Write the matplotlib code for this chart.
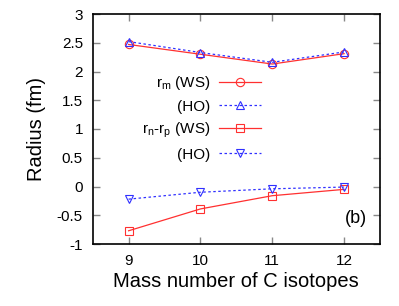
import matplotlib
matplotlib.use("Agg")
import matplotlib.pyplot as plt

plt.rcParams['font.family'] = ['Liberation Sans', 'DejaVu Sans']

mass = [9, 10, 11, 12]
rm_ws = [2.47, 2.30, 2.13, 2.31]
rm_ho = [2.52, 2.33, 2.16, 2.34]
dr_ws = [-0.77, -0.39, -0.16, -0.05]
dr_ho = [-0.22, -0.10, -0.04, -0.01]

red = '#ff3030'
blue = '#3030ff'

fig = plt.figure(figsize=(3.99, 3.06), dpi=100)
ax = fig.add_axes([92.7/399, 1 - 244/306, (380 - 92.7)/399, (244 - 14)/306])

ax.plot(mass, rm_ws, color=red, lw=0.9, marker='o', ms=6, mfc='none', mec=red, mew=0.8,
        label=r'r$_\mathregular{m}$ (WS)')
ax.plot(mass, rm_ho, color=blue, lw=0.9, ls=(0, (2, 2)), marker='^', ms=6, mfc='none', mec=blue, mew=0.8,
        label='(HO)')
ax.plot(mass, dr_ws, color=red, lw=0.9, marker='s', ms=6, mfc='none', mec=red, mew=0.8,
        label=r'r$_\mathregular{n}$-r$_\mathregular{p}$ (WS)')
ax.plot(mass, dr_ho, color=blue, lw=0.9, ls=(0, (2, 2)), marker='v', ms=6, mfc='none', mec=blue, mew=0.8,
        label='(HO)')

ax.set_xlim(8.5, 12.5)
ax.set_ylim(-1, 3)
ax.set_xticks(mass)
ax.set_yticks([-1, -0.5, 0, 0.5, 1, 1.5, 2, 2.5, 3])
ax.set_yticklabels(['-1', '-0.5', '0', '0.5', '1', '1.5', '2', '2.5', '3'])
ax.tick_params(direction='in', length=5, width=1, color='#888888', labelsize=11,
               top=True, right=True, pad=7)
for s in ax.spines.values():
    s.set_linewidth(1.2)

ax.set_xlabel('Mass number of C isotopes', fontsize=14.5, labelpad=3)
ax.set_ylabel('Radius (fm)', fontsize=14.5, labelpad=8)

ax.text(0.955, 0.113, '(b)', transform=ax.transAxes, ha='right', va='center', fontsize=13)

leg = ax.legend(loc='upper left', bbox_to_anchor=(0.172, 0.737), frameon=False, fontsize=11,
                markerfirst=False, handlelength=2.75, handletextpad=0.55, labelspacing=0.47,
                borderaxespad=0, borderpad=0)
for t in leg.get_texts():
    t.set_ha('right')
leg._legend_box.align = 'right'

fig.savefig('out.png', dpi=100)
